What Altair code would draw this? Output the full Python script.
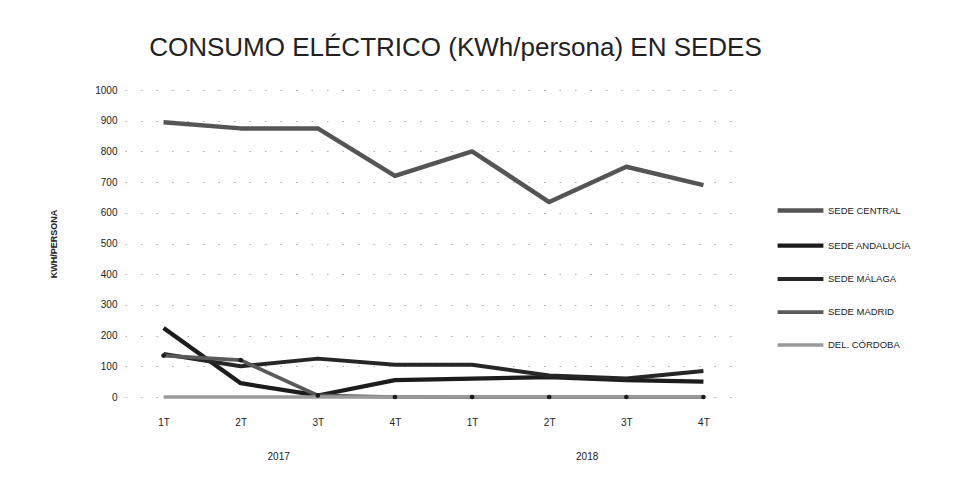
import altair as alt
import pandas as pd

quarters = ["1T", "2T", "3T", "4T", "1T", "2T", "3T", "4T"]
years = ["2017"] * 4 + ["2018"] * 4
series_names = ["SEDE CENTRAL", "SEDE ANDALUCÍA", "SEDE MÁLAGA", "SEDE MADRID", "DEL. CÓRDOBA"]
central = [895, 875, 875, 720, 800, 635, 750, 690]
andalucia = [225, 45, 5, 55, 60, 65, 55, 50]
malaga = [140, 100, 125, 105, 105, 70, 60, 85]
madrid = [135, 120, 5, 0, 0, 0, 0, 0]
cordoba = [0, 0, 0, 0, 0, 0, 0, 0]
colors = ["#555555", "#1c1c1c", "#262626", "#5a5a5a", "#9a9a9a"]
widths = [4.5, 3.5, 3.5, 3.5, 3.5]

keys = [f"{y}|{q}" for y, q in zip(years, quarters)]
values = [central, andalucia, malaga, madrid, cordoba]
rows = []
for name, vals in zip(series_names, values):
    for k, v in zip(keys, vals):
        rows.append({"periodo": k, "serie": name, "valor": v})
df = pd.DataFrame(rows)

year_labels = pd.DataFrame({"periodo": ["2017|2T", "2018|2T"], "anio": ["2017", "2018"]})

W, H = 617, 307
FONT = "Liberation Sans"

x = alt.X(
    "periodo:N",
    sort=keys,
    scale=alt.Scale(type="point", padding=0.5),
    axis=alt.Axis(
        labelExpr="split(datum.label,'|')[1]",
        labelAngle=0,
        title=None,
        domain=False,
        ticks=False,
        grid=False,
        labelPadding=20,
        labelFontSize=10,
        labelColor="#222",
        labelFont=FONT,
    ),
)

y = alt.Y(
    "valor:Q",
    scale=alt.Scale(domain=[0, 1000]),
    axis=alt.Axis(
        values=list(range(0, 1001, 100)),
        format="d",
        title="KWH/PERSONA",
        titleFontSize=9,
        titleFont=FONT,
        titleFontWeight="bold",
        titleColor="#222",
        titlePadding=36,
        labelFontSize=10,
        labelFont=FONT,
        labelColor="#222",
        domain=False,
        ticks=False,
        labelPadding=8,
        gridColor="#888",
        gridDash=[1.5, 14],
        gridOpacity=0.7,
    ),
)

lines = alt.Chart(df).mark_line(strokeCap="butt", strokeJoin="round").encode(
    x=x,
    y=y,
    color=alt.Color(
        "serie:N",
        sort=series_names,
        scale=alt.Scale(domain=series_names, range=colors),
        legend=alt.Legend(
            title=None,
            orient="none",
            legendX=650,
            legendY=95,
            symbolType="stroke",
            symbolSize=2100,
            symbolStrokeWidth=4,
            labelFontSize=9.5,
            labelFont=FONT,
            labelColor="#222",
            rowPadding=0,
            labelOffset=2,
        ),
    ),
    strokeWidth=alt.StrokeWidth(
        "serie:N",
        scale=alt.Scale(domain=series_names, range=widths),
        legend=None,
    ),
)

points = alt.Chart(df[df["serie"] == "SEDE MADRID"]).mark_point(
    shape="circle", filled=True, size=22, color="#1c1c1c", opacity=1
).encode(x=x, y=y)

years_text = alt.Chart(year_labels).mark_text(
    dx=38, fontSize=10, font=FONT, color="#222", baseline="middle"
).encode(x=alt.X("periodo:N", sort=keys), y=alt.value(H + 60), text="anio:N")

chart = (
    alt.layer(lines, points, years_text)
    .properties(
        width=W,
        height=H,
        background="white",
        title=alt.TitleParams(
            "CONSUMO ELÉCTRICO (KWh/persona) EN SEDES",
            fontSize=26,
            font=FONT,
            fontWeight="normal",
            color="#222",
            anchor="middle",
            dx=22,
            offset=24,
        ),
        autosize=alt.AutoSizeParams(type="none"),
        padding={"left": 117, "top": 82, "right": 200, "bottom": 70},
    )
    .configure_view(strokeWidth=0, stroke="transparent")
)

chart.save("out.html", embed_options={"renderer": "svg", "actions": False})
